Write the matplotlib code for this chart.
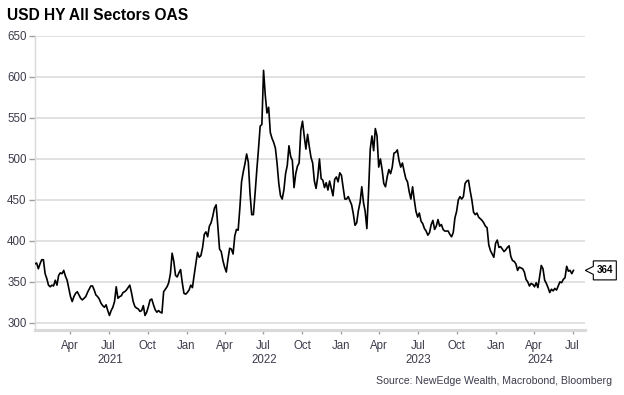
import matplotlib
matplotlib.use('Agg')
import matplotlib.pyplot as plt
import matplotlib.dates as mdates
import matplotlib.transforms as mtransforms
from matplotlib.patches import Polygon
import pandas as pd

plt.rcParams['font.family'] = ['Liberation Sans', 'DejaVu Sans']

# USD HY OAS (bp), one reading every 4 days
start_date = '2021-01-08'
oas = [
    372, 373, 366, 372, 377, 377, 360, 354, 346, 344,
    346, 345, 352, 346, 358, 361, 360, 364, 357, 352,
    342, 332, 326, 332, 336, 338, 334, 330, 328, 330,
    332, 337, 341, 345, 345, 340, 334, 332, 329, 324,
    321, 319, 322, 315, 309, 315, 319, 326, 344, 330,
    332, 333, 337, 338, 340, 343, 346, 337, 326, 320,
    318, 317, 314, 315, 321, 309, 313, 320, 328, 329,
    322, 316, 313, 315, 313, 312, 338, 341, 344, 349,
    360, 385, 375, 358, 356, 361, 365, 349, 336, 335,
    337, 340, 346, 343, 358, 372, 386, 380, 382, 392,
    408, 411, 405, 418, 422, 430, 440, 444, 418, 390,
    387, 376, 368, 362, 378, 391, 390, 384, 406, 414,
    413, 440, 472, 484, 494, 506, 496, 458, 432, 432,
    458, 486, 512, 540, 542, 608, 578, 556, 563, 532,
    525, 520, 513, 494, 470, 455, 451, 462, 482, 492,
    516, 503, 498, 465, 482, 491, 495, 535, 546, 528,
    512, 530, 515, 502, 495, 473, 464, 478, 500, 476,
    474, 465, 471, 462, 473, 464, 455, 475, 478, 472,
    483, 480, 465, 451, 451, 454, 449, 444, 433, 419,
    422, 437, 447, 466, 447, 436, 415, 460, 512, 528,
    510, 537, 528, 490, 500, 487, 470, 466, 478, 487,
    482, 490, 507, 508, 511, 498, 490, 495, 485, 476,
    472, 460, 451, 466, 450, 436, 429, 434, 424, 421,
    415, 412, 407, 410, 420, 425, 414, 418, 426, 418,
    420, 414, 412, 412, 412, 408, 405, 410, 428, 436,
    450, 454, 451, 454, 470, 473, 474, 461, 450, 435,
    432, 434, 429, 427, 425, 422, 418, 416, 395, 388,
    384, 380, 397, 401, 392, 393, 390, 387, 389, 392,
    394, 381, 376, 375, 372, 364, 368, 367, 366, 362,
    353, 350, 345, 348, 347, 344, 349, 343, 356, 370,
    366, 352, 348, 343, 337, 341, 339, 342, 340, 345,
    350, 349, 353, 355, 369, 363, 364, 360, 364,
]
dates = pd.date_range(start_date, periods=len(oas), freq='4D')

yticks = [300, 350, 400, 450, 500, 550, 600, 650]
years = [2021, 2022, 2023, 2024]
title = 'USD HY All Sectors OAS'
source = 'Source: NewEdge Wealth, Macrobond, Bloomberg'

txt_col = '#3c3c4c'
grid_col = '#d9d9d9'

fig = plt.figure(figsize=(6.24, 3.95), dpi=100)
ax = fig.add_axes([0.056, 0.165, 0.882, 0.744])

ax.plot(dates, oas, color='black', lw=1.2, zorder=3)

x0 = dates[0]
x1 = pd.Timestamp('2024-07-31')
ax.set_xlim(x0, x1)
ax.set_ylim(291.5, 650)
ax.set_yticks(yticks)
ax.grid(axis='y', color=grid_col, lw=1.1)
ax.set_axisbelow(True)

for s in ['top', 'right']:
    ax.spines[s].set_visible(False)
ax.spines['left'].set_color(grid_col)
ax.spines['left'].set_linewidth(1.0)
ax.spines['bottom'].set_color(grid_col)
ax.spines['bottom'].set_linewidth(2.2)

ax.xaxis.set_major_locator(mdates.MonthLocator(bymonth=[1, 4, 7, 10]))
ax.xaxis.set_major_formatter(mdates.DateFormatter('%b'))
ax.tick_params(axis='x', length=3, width=1, color='#a0a0a0', labelsize=8.3,
               labelcolor=txt_col, pad=4)
ax.tick_params(axis='y', length=4, width=1, color='#a0a0a0', labelsize=8.3,
               labelcolor=txt_col, pad=2)

# year labels centred under the visible part of each year
for yr in years:
    a = max(pd.Timestamp(f'{yr}-01-01'), x0)
    b = min(pd.Timestamp(f'{yr + 1}-01-01'), x1)
    mid = a + (b - a) / 2
    ax.text(mid, -0.102, str(yr), transform=ax.get_xaxis_transform(),
            ha='center', va='center', fontsize=8.3, color=txt_col)

fig.text(0.011, 0.962, title, fontsize=11.2, fontweight='bold', ha='left',
         va='center', color='black')
fig.text(0.98, 0.035, source, fontsize=7.6, ha='right', va='center', color=txt_col)

# last value tag: box with a small pointer at the right edge of the plot
last = oas[-1]
anchor = mtransforms.blended_transform_factory(ax.transAxes, ax.transData)
tag_tr = mtransforms.Affine2D().scale(fig.dpi / 100) + \
    mtransforms.ScaledTranslation(1.0, last, anchor)
tag = Polygon([(0, 0), (8, 4), (8, 9.5), (31, 9.5), (31, -9.5), (8, -9.5), (8, -4)],
              closed=True, fc='white', ec='black', lw=0.8,
              transform=tag_tr, clip_on=False, zorder=5)
ax.add_artist(tag)
ax.text(19.5, 0, f'{last}', transform=tag_tr, ha='center', va='center',
        fontsize=7, fontweight='bold', color='black', zorder=6, clip_on=False)

fig.savefig('out.png', dpi=100)
